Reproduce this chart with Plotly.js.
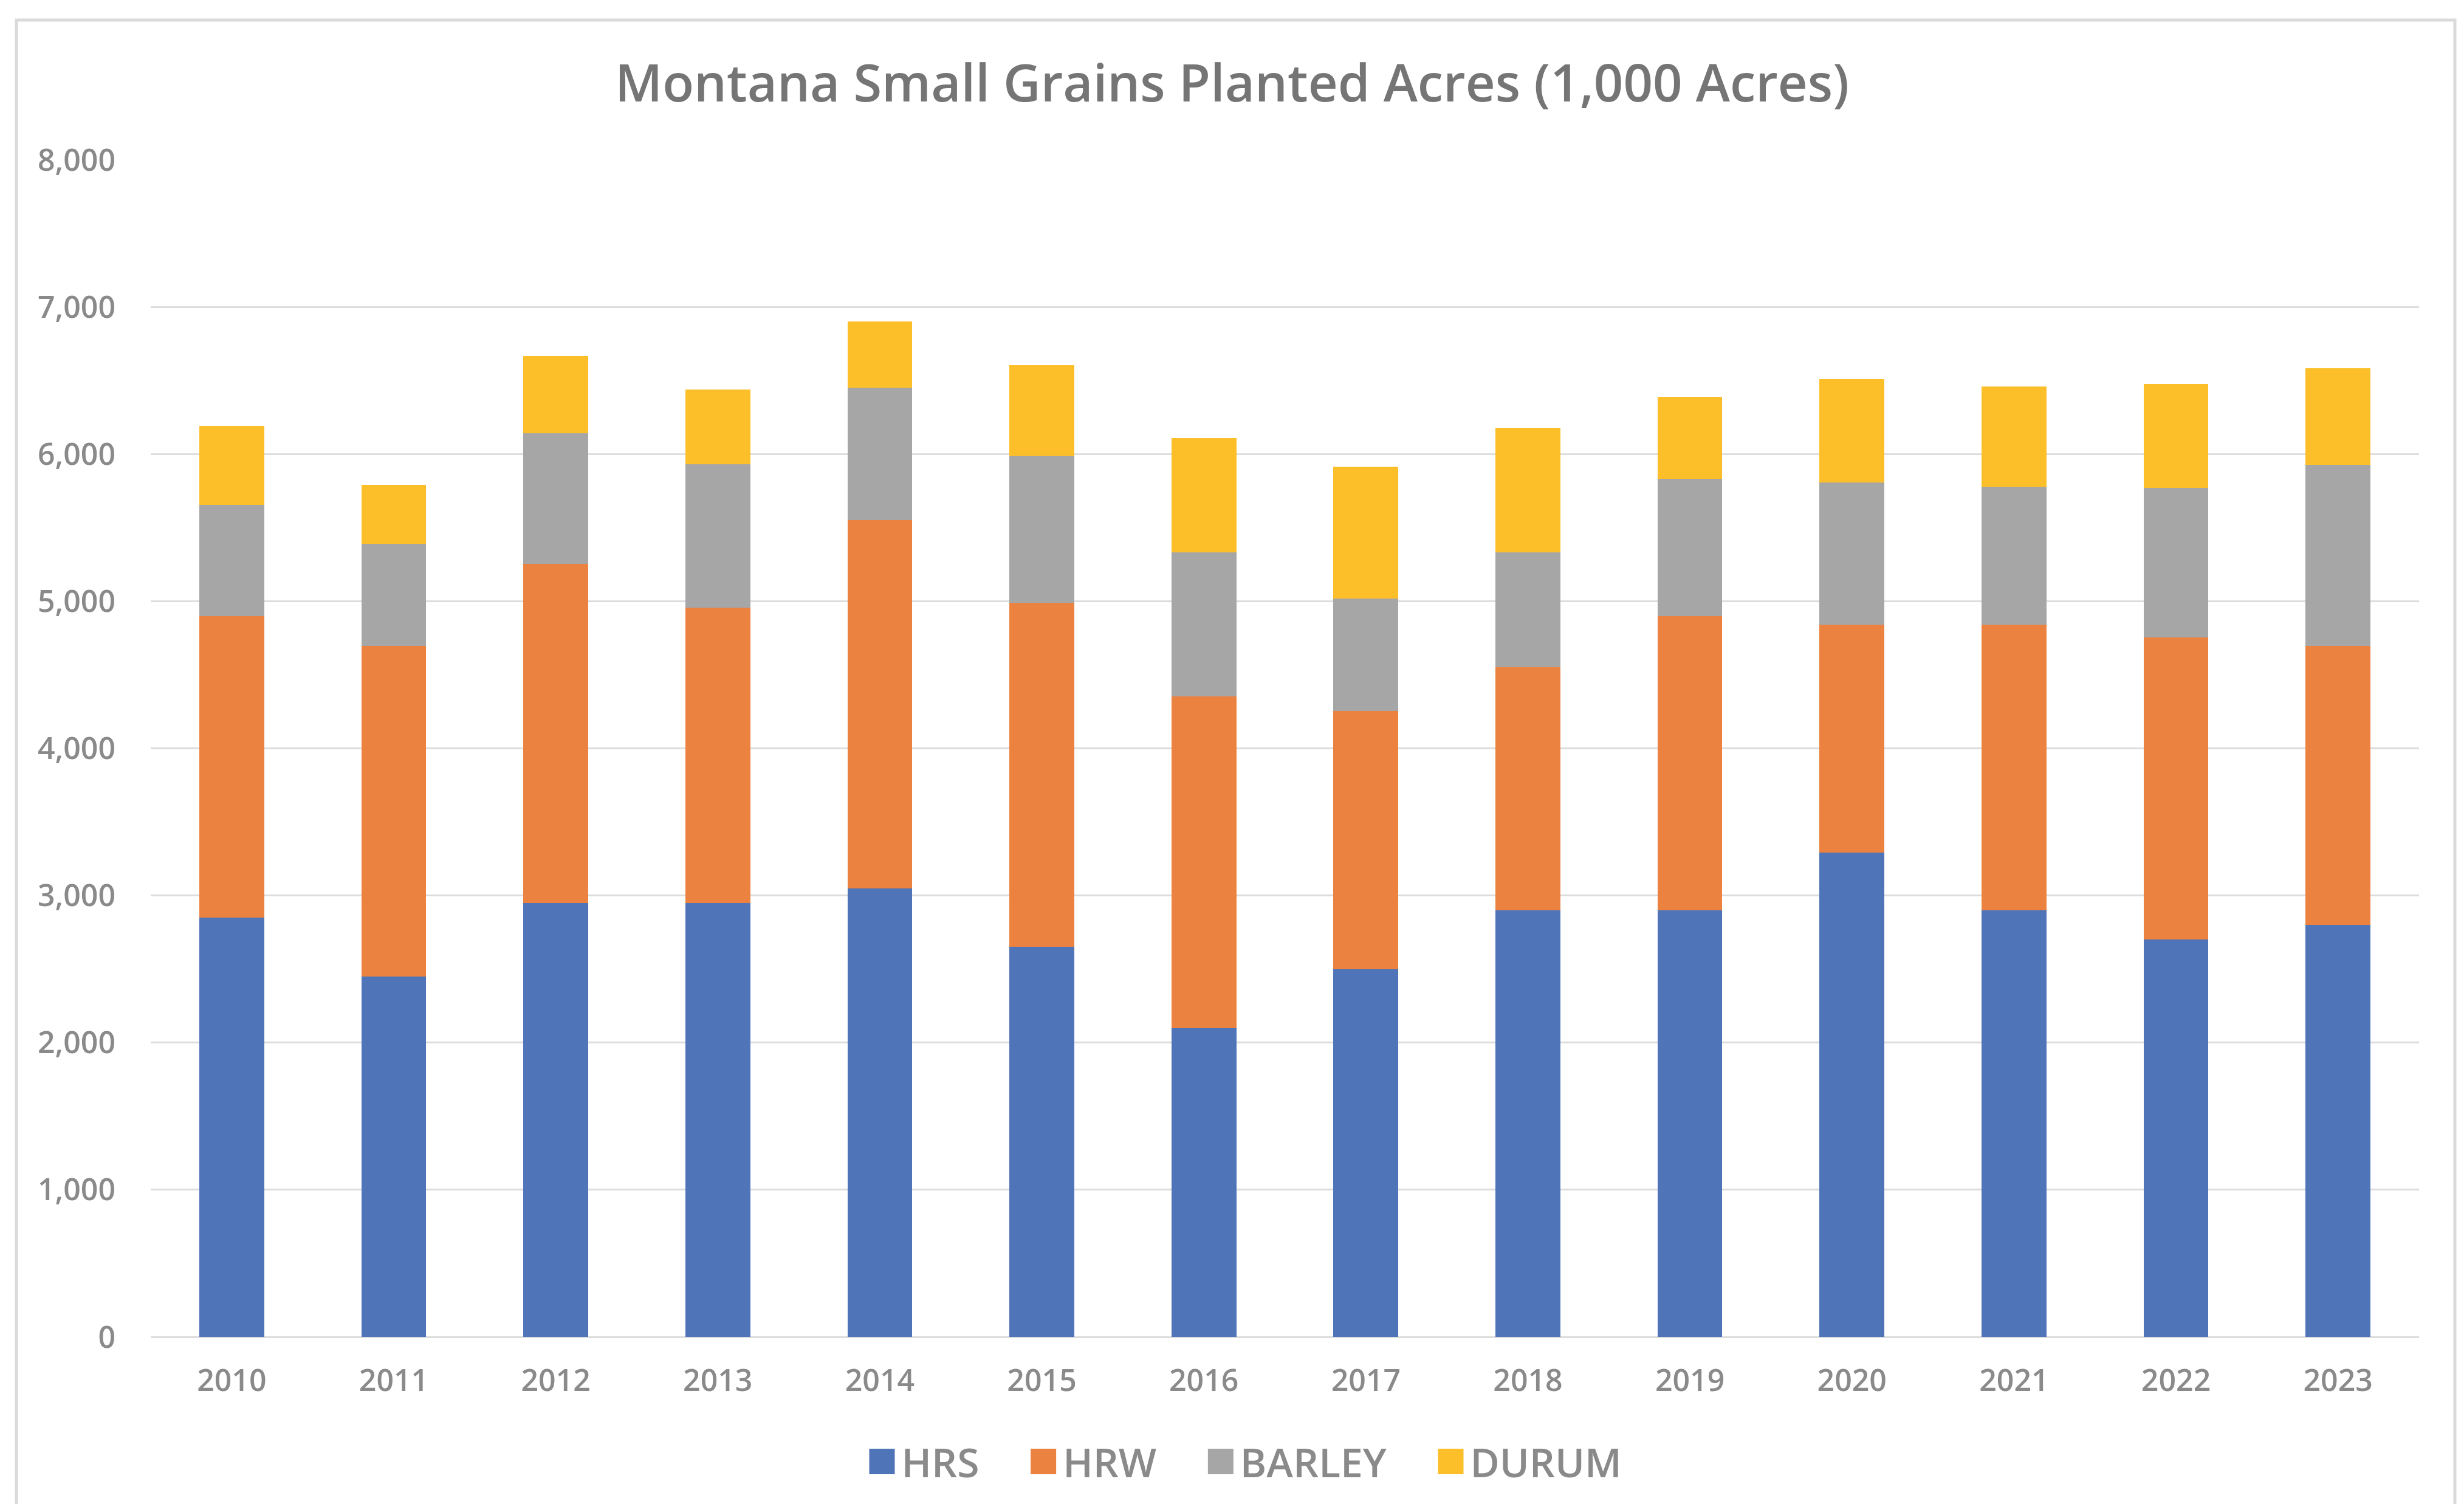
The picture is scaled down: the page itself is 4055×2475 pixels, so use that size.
<!DOCTYPE html>
<html>
<head>
<meta charset="utf-8">
<script src="https://cdn.plot.ly/plotly-3.0.1.min.js"></script>
<style>
  html, body { margin: 0; padding: 0; background: #ffffff; }
  #chart { width: 4055px; height: 2475px; }
</style>
</head>
<body>
<div id="chart"></div>
<script>
// ---- data (1,000 acres) ----
const years = ['2010','2011','2012','2013','2014','2015','2016','2017','2018','2019','2020','2021','2022','2023'];
const hrs    = [2850, 2450, 2950, 2950, 3050, 2650, 2100, 2500, 2900, 2900, 3290, 2900, 2700, 2800];
const hrw    = [2050, 2245, 2305, 2005, 2500, 2340, 2255, 1755, 1650, 2000, 1550, 1940, 2055, 1895];
const barley = [ 755,  695,  885,  975,  900, 1000,  975,  765,  780,  930,  965,  940, 1015, 1230];
const durum  = [ 535,  400,  525,  510,  450,  615,  780,  895,  850,  560,  705,  680,  705,  660];
const seriesNames = ['HRS', 'HRW', 'BARLEY', 'DURUM'];
const yTickVals = [0, 1000, 2000, 3000, 4000, 5000, 6000, 7000, 8000];

// ---- styling ----
const colors = ['#4f75b8', '#ec8240', '#a6a6a6', '#fcbf2a'];
const W = 4055, H = 2475;
const M = { l: 248, r: 74, t: 263, b: 275 };
const grey = '#8a8a8a';
const legendPad = '\u00a0\u00a0\u00a0\u00a0';

const values = [hrs, hrw, barley, durum];
const traces = values.map((v, i) => ({
  type: 'bar',
  name: seriesNames[i] + (i < values.length - 1 ? legendPad : ''),
  x: years,
  y: v,
  marker: { color: colors[i], line: { width: 0 } },
  hoverinfo: 'x+y+name'
}));

const pw = W - M.l - M.r, ph = H - M.t - M.b;
const layout = {
  width: W, height: H,
  margin: M,
  paper_bgcolor: '#ffffff',
  plot_bgcolor: '#ffffff',
  barmode: 'stack',
  bargap: 0.6,
  showlegend: true,
  title: {
    text: 'Montana Small Grains Planted Acres (1,000 Acres)',
    font: { family: 'Open Sans', size: 85, color: '#757575', weight: 600 },
    x: 0.5, xref: 'container', xanchor: 'center',
    y: 1 - 137 / H, yref: 'container', yanchor: 'middle'
  },
  xaxis: {
    type: 'category',
    showgrid: false,
    zeroline: false,
    showline: false,
    ticks: '',
    ticklabelstandoff: 38,
    tickfont: { family: 'Open Sans', size: 50, color: grey, weight: 600 }
  },
  yaxis: {
    range: [0, 8000],
    tickvals: yTickVals,
    tickformat: ',d',
    showgrid: true,
    gridcolor: '#dcdcdc',
    gridwidth: 3,
    zeroline: true,
    zerolinecolor: '#dcdcdc',
    zerolinewidth: 3,
    showline: false,
    ticks: '',
    ticklabelstandoff: 57,
    tickfont: { family: 'Open Sans', size: 50, color: grey, weight: 600 }
  },
  legend: {
    orientation: 'h',
    xref: 'container', yref: 'container',
    x: 2047 / W, xanchor: 'center',
    y: 1 - 2405 / H, yanchor: 'middle',
    font: { family: 'Open Sans', size: 66, color: grey, weight: 600 },
    itemwidth: 54,
    traceorder: 'normal',
    bgcolor: 'rgba(0,0,0,0)'
  },
  shapes: [{
    type: 'rect', xref: 'paper', yref: 'paper', layer: 'below',
    x0: (27 - M.l) / pw, x1: (4040 - M.l) / pw,
    y0: (H - 2490 - M.b) / ph, y1: (H - 33 - M.b) / ph,
    line: { color: '#dadada', width: 5 },
    fillcolor: 'rgba(0,0,0,0)'
  }]
};

Plotly.newPlot('chart', traces, layout, { displayModeBar: false, staticPlot: true }).then(() => {
  // enlarge legend colour squares to match the reference
  document.querySelectorAll('#chart .legend .legendpoints path').forEach(p => {
    p.setAttribute('d', 'M21,21H-21V-21H21Z');
  });
});
</script>
</body>
</html>
